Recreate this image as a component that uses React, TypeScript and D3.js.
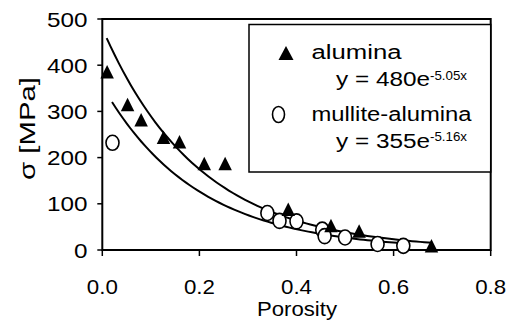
import React from "react";
import * as d3 from "d3";

const aluminaX = [0.01, 0.052, 0.08, 0.126, 0.159, 0.21, 0.253, 0.383, 0.471, 0.529, 0.678];
const aluminaY = [385, 314, 281, 243, 233, 186, 186, 87, 52, 40, 8];
const mulliteX = [0.021, 0.34, 0.365, 0.4, 0.453, 0.458, 0.5, 0.567, 0.62];
const mulliteY = [232, 80, 63, 62, 44, 30, 27, 13, 9];

const xTicks = [0, 0.2, 0.4, 0.6, 0.8];
const yTicks = [0, 100, 200, 300, 400, 500];

const fitA = { a: 480, b: 5.05, from: 0.009, to: 0.68 };
const fitM = { a: 355, b: 5.16, from: 0.02, to: 0.63 };

const W = 511;
const H = 329;
const L = 102.3;
const R = 490.7;
const T = 19;
const B = 250;
const FONT = "'Liberation Sans', Arial, Helvetica, sans-serif";

export default function App() {
  const x = d3.scaleLinear().domain([0, 0.8]).range([L, R]);
  const y = d3.scaleLinear().domain([0, 500]).range([B, T]);

  const curve = (f: { a: number; b: number; from: number; to: number }) => {
    const pts: [number, number][] = [];
    const n = 80;
    for (let i = 0; i <= n; i++) {
      const xv = f.from + ((f.to - f.from) * i) / n;
      pts.push([xv, f.a * Math.exp(-f.b * xv)]);
    }
    return d3
      .line<[number, number]>()
      .x((d) => x(d[0]))
      .y((d) => y(d[1]))(pts) as string;
  };

  const tri = (cx: number, cy: number, w = 13.5, h = 12.5) =>
    `M${cx},${cy - h / 2 - 1}L${cx + w / 2},${cy + h / 2}L${cx - w / 2},${cy + h / 2}Z`;

  const digitW = 13.5;

  return (
    <svg width={W} height={H} style={{ display: "block", background: "#fff" }} fontFamily={FONT}>
      <style>{`body{margin:0}`}</style>
      <rect x={0} y={0} width={W} height={H} fill="#fff" />
      {/* frame */}
      <rect x={L} y={T} width={R - L} height={B - T} fill="none" stroke="#000" strokeWidth={2} />
      {/* y ticks */}
      {yTicks.map((t) => (
        <g key={"y" + t}>
          <line x1={L - 5} x2={L} y1={y(t)} y2={y(t)} stroke="#000" strokeWidth={1.5} />
          <text
            x={87.5}
            y={y(t) + 7.5}
            textAnchor="end"
            fontSize={21}
            fill="#000"
            textLength={String(t).length * digitW}
            lengthAdjust="spacingAndGlyphs"
          >
            {t}
          </text>
        </g>
      ))}
      {/* x ticks */}
      {xTicks.map((t) => (
        <g key={"x" + t}>
          <line x1={x(t)} x2={x(t)} y1={B} y2={B + 6} stroke="#000" strokeWidth={1.5} />
          <text
            x={x(t)}
            y={294}
            textAnchor="middle"
            fontSize={21}
            fill="#000"
            textLength={31}
            lengthAdjust="spacingAndGlyphs"
          >
            {t.toFixed(1)}
          </text>
        </g>
      ))}
      <text
        x={(L + R) / 2 + 0.5}
        y={316}
        textAnchor="middle"
        fontSize={20}
        fill="#000"
        textLength={80}
        lengthAdjust="spacingAndGlyphs"
      >
        Porosity
      </text>
      <text
        transform={`translate(35,128.5) rotate(-90)`}
        textAnchor="middle"
        fontSize={22}
        fill="#000"
        textLength={103}
        lengthAdjust="spacingAndGlyphs"
      >
        σ [MPa]
      </text>
      {/* fit curves */}
      <path d={curve(fitA)} fill="none" stroke="#000" strokeWidth={2} />
      <path d={curve(fitM)} fill="none" stroke="#000" strokeWidth={2} />
      {/* mullite points */}
      {mulliteX.map((xv, i) => (
        <ellipse
          key={"m" + i}
          cx={x(xv)}
          cy={y(mulliteY[i])}
          rx={6.5}
          ry={7.5}
          fill="#fff"
          stroke="#000"
          strokeWidth={1.6}
        />
      ))}
      {/* alumina points */}
      {aluminaX.map((xv, i) => (
        <path key={"a" + i} d={tri(x(xv), y(aluminaY[i]))} fill="#000" />
      ))}
      {/* legend */}
      <rect x={249} y={24.5} width={R - 249} height={147.5} fill="#fff" stroke="#000" strokeWidth={1.5} />
      <path d={tri(286, 53.5, 15, 13)} fill="#000" />
      <text x={311.5} y={58.5} fontSize={20} fill="#000" textLength={90} lengthAdjust="spacingAndGlyphs">
        alumina
      </text>
      <text x={336} y={85.5} fontSize={20} fill="#000" textLength={94} lengthAdjust="spacingAndGlyphs">
        y = 480e
      </text>
      <text x={430} y={80} fontSize={13.5} fill="#000" textLength={37} lengthAdjust="spacingAndGlyphs">
        -5.05x
      </text>
      <ellipse cx={278.5} cy={114.5} rx={6} ry={8} fill="#fff" stroke="#000" strokeWidth={1.6} />
      <text x={311.5} y={121} fontSize={20} fill="#000" textLength={160} lengthAdjust="spacingAndGlyphs">
        mullite-alumina
      </text>
      <text x={336} y={148} fontSize={20} fill="#000" textLength={94} lengthAdjust="spacingAndGlyphs">
        y = 355e
      </text>
      <text x={430} y={141} fontSize={13.5} fill="#000" textLength={37} lengthAdjust="spacingAndGlyphs">
        -5.16x
      </text>
    </svg>
  );
}
